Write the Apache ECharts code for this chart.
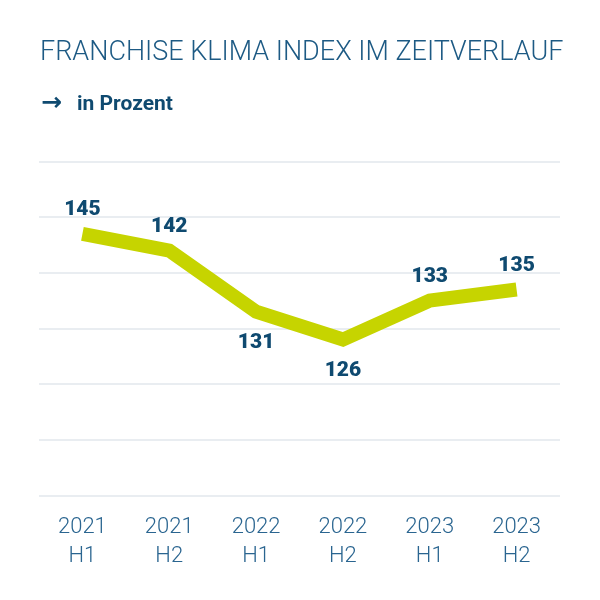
<!DOCTYPE html>
<html>
<head>
<meta charset="utf-8">
<script src="https://cdn.jsdelivr.net/npm/echarts@6/dist/echarts.min.js"></script>
<style>
  html, body { margin: 0; padding: 0; background: #ffffff; }
  #chart { width: 600px; height: 600px; }
</style>
</head>
<body>
<div id="chart"></div>
<script>
// data
const periods = ['2021\nH1', '2021\nH2', '2022\nH1', '2022\nH2', '2023\nH1', '2023\nH2'];
const indexValues = [145, 142, 131, 126, 133, 135];
// where each value label sits
const labelSide = ['top', 'top', 'bottom', 'bottom', 'top', 'top'];

const chart = echarts.init(document.getElementById('chart'));

const option = {
  backgroundColor: '#ffffff',
  animation: false,
  title: [{
    text: 'FRANCHISE KLIMA INDEX IM ZEITVERLAUF',
    left: 35,
    top: 35,
    textStyle: {
      fontFamily: 'Roboto',
      fontWeight: 300,
      fontSize: 27,
      color: '#1d5a84'
    }
  }, {
    text: '{a|→}{b|in Prozent}',
    left: 36,
    top: 86,
    textStyle: {
      rich: {
        a: { fontFamily: 'DejaVu Sans', fontSize: 25, color: '#0f4a70', width: 36, padding: [0, 0, 3, 0] },
        b: { fontFamily: 'Roboto', fontSize: 21, fontWeight: 'bold', color: '#0f4a70' }
      }
    }
  }],
  grid: {
    left: 39,
    right: 40,
    top: 161.5,
    bottom: 104.7
  },
  xAxis: {
    type: 'category',
    data: periods,
    boundaryGap: true,
    axisLine: { show: false },
    axisTick: { show: false },
    axisLabel: {
      margin: 18,
      fontFamily: 'Roboto',
      fontWeight: 300,
      fontSize: 22,
      lineHeight: 29,
      color: '#2a6590'
    }
  },
  yAxis: [{
    // grid lines only
    type: 'value',
    min: 0,
    max: 60,
    interval: 10,
    axisLabel: { show: false },
    axisLine: { show: false },
    axisTick: { show: false },
    splitLine: { lineStyle: { color: '#e9edf1', width: 2 } }
  }, {
    type: 'value',
    min: 98,
    max: 158,
    show: false,
    splitLine: { show: false }
  }],
  series: [{
    type: 'line',
    yAxisIndex: 1,
    showSymbol: true,
    symbol: 'circle',
    symbolSize: 1,
    itemStyle: { color: 'rgba(0,0,0,0)' },
    lineStyle: { color: '#c6d400', width: 14, cap: 'butt', join: 'miter' },
    data: indexValues.map((v, i) => ({
      value: v,
      label: {
        position: labelSide[i],
        distance: labelSide[i] === 'top' ? 13 : 20
      }
    })),
    label: {
      show: true,
      fontFamily: 'Roboto',
      fontWeight: 900,
      fontSize: 21,
      color: '#0f4a70'
    }
  }]
};

chart.setOption(option);
</script>
</body>
</html>
